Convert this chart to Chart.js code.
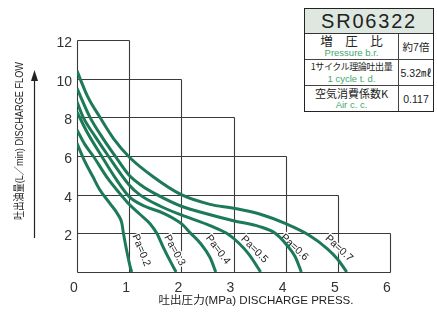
<!DOCTYPE html>
<html>
<head>
<meta charset="utf-8">
<script src="https://cdn.jsdelivr.net/npm/chart.js@4.4.1/dist/chart.umd.min.js"></script>
<style>
  body { margin: 0; background: #fff; }
  #wrap { position: relative; width: 437px; height: 313px; }
  #spec {
    position: absolute; left: 304px; top: 8px; width: 128px;
    border: 1.5px solid #222; background: #fff; color: #222;
    font-family: "Liberation Sans", Arial, "Noto Sans CJK JP", sans-serif;
  }
  #spec .hd {
    height: 24px; line-height: 25px; background: #dfe7e1;
    border-bottom: 1px solid #333; text-align: center;
    font-size: 20px; letter-spacing: 1.8px;
  }
  #spec .row { display: flex; height: 25px; border-bottom: 1px solid #444; }
  #spec .row:last-child { border-bottom: none; }
  #spec .l { width: 93px; border-right: 1px solid #444; text-align: center; }
  #spec .r { flex: 1; display: flex; align-items: center; justify-content: center; font-size: 10.5px; }
  #spec .jp { font-size: 11px; line-height: 12px; padding-top: 1px; font-family: "Noto Sans CJK JP", sans-serif; }
  #spec .jp.big { font-size: 12.5px; line-height: 13px; padding-top: 0; }
  #spec .jp.small { font-size: 9px; letter-spacing: -0.4px; }
  #spec .en { font-size: 9.5px; line-height: 11px; color: #3fa86c; }
</style>
</head>
<body>
<div id="wrap">
  <canvas id="chart" width="437" height="313"></canvas>
  <div id="spec">
    <div class="hd">SR06322</div>
    <div class="row">
      <div class="l"><div class="jp big">増　圧　比</div><div class="en">Pressure b.r.</div></div>
      <div class="r">約7倍</div>
    </div>
    <div class="row">
      <div class="l"><div class="jp small">1サイクル理論吐出量</div><div class="en">1 cycle t. d.</div></div>
      <div class="r">5.32㎖</div>
    </div>
    <div class="row">
      <div class="l"><div class="jp">空気消費係数K</div><div class="en">Air c. c.</div></div>
      <div class="r">0.117</div>
    </div>
  </div>
</div>
<script>
// discharge pressure (MPa) / discharge flow (L/min), one pair per drive air pressure
const pa02X = [0, 0.15, 0.3, 0.44, 0.63, 0.79, 0.86, 0.89, 0.95, 1.02, 1.05];
const pa02Y = [6.65, 5.72, 4.95, 4.24, 3.55, 2.95, 2.52, 2.0, 1.14, 0.27, 0];
const pa03X = [0, 0.15, 0.31, 0.6, 0.84, 1.0, 1.2, 1.4, 1.53, 1.65, 1.78, 1.9];
const pa03Y = [7.35, 6.6, 6.0, 4.8, 4.0, 3.5, 3.0, 2.5, 2.0, 1.3, 0.6, 0];
const pa04X = [0, 0.2, 0.47, 0.75, 1.0, 1.3, 1.65, 2.0, 2.18, 2.36, 2.55, 2.66];
const pa04Y = [8.28, 7.2, 6.0, 4.8, 3.9, 3.4, 3.05, 2.5, 2.0, 1.5, 0.75, 0];
const pa05X = [0, 0.12, 0.35, 0.6, 1.0, 1.2, 1.6, 2.0, 2.55, 2.87, 3.1, 3.3, 3.52];
const pa05Y = [8.8, 8.0, 7.0, 6.0, 4.5, 4.0, 3.4, 2.95, 2.4, 2.0, 1.5, 0.9, 0];
const pa06X = [0, 0.25, 0.5, 0.73, 1.0, 1.25, 1.53, 2.0, 2.5, 3.0, 3.5, 3.8, 4.02, 4.18, 4.3];
const pa06Y = [9.5, 8.0, 6.9, 6.0, 5.0, 4.45, 4.0, 3.4, 3.0, 2.65, 2.35, 2.0, 1.4, 0.8, 0];
const pa07X = [0, 0.2, 0.44, 0.7, 1.0, 1.46, 2.0, 2.55, 3.0, 3.5, 4.0, 4.45, 4.8, 5.0, 5.17];
const pa07Y = [10.4, 9.1, 8.0, 6.9, 5.95, 4.93, 4.0, 3.5, 3.3, 3.0, 2.5, 1.9, 1.2, 0.65, 0];

const seriesNames = ["Pa=0.2", "Pa=0.3", "Pa=0.4", "Pa=0.5", "Pa=0.6", "Pa=0.7"];
const xTicks = [0, 1, 2, 3, 4, 5, 6];
const yTicks = [0, 2, 4, 6, 8, 10, 12];

const curveColor = "#1d7a58";
const gridColor = "#3a3a3a";
const fontFamily = '"Liberation Sans", Arial, "Noto Sans CJK JP", sans-serif';

const pairs = [[pa02X, pa02Y], [pa03X, pa03Y], [pa04X, pa04Y], [pa05X, pa05Y], [pa06X, pa06Y], [pa07X, pa07Y]];

// where each Pa= tag sits (data coords) and its tilt in degrees
const tagSpots = [
  { x: 1.23, y: 1.12, deg: 68 },
  { x: 1.87, y: 1.12, deg: 61 },
  { x: 2.7, y: 1.15, deg: 53 },
  { x: 3.4, y: 1.17, deg: 45 },
  { x: 4.17, y: 1.27, deg: 43 },
  { x: 5.02, y: 1.22, deg: 43 }
];

function fitText(ctx, text, cx, cy, width, angle) {
  ctx.save();
  ctx.translate(cx, cy);
  ctx.rotate(angle);
  const w = ctx.measureText(text).width;
  ctx.scale(width / w, 1);
  ctx.textAlign = "center";
  ctx.textBaseline = "middle";
  ctx.fillText(text, 0, 0);
  ctx.restore();
}

// staircase grid + Pa tags, drawn under the curves
const stairGrid = {
  id: "stairGrid",
  beforeDatasetsDraw(chart) {
    const { ctx, scales: { x, y } } = chart;
    const px = (v) => Math.round(x.getPixelForValue(v)) + 0.5;
    const py = (v) => Math.round(y.getPixelForValue(v)) + 0.5;
    ctx.save();
    ctx.strokeStyle = gridColor;
    ctx.lineWidth = 1.1;
    ctx.beginPath();
    const top = yTicks[yTicks.length - 1];
    // horizontal: level yTicks[k] runs out to xTicks[last-k+1]
    yTicks.forEach((lvl, k) => {
      const reach = k === 0 ? xTicks[xTicks.length - 1] : xTicks[xTicks.length - k];
      ctx.moveTo(px(0), py(lvl));
      ctx.lineTo(px(reach), py(lvl));
    });
    // vertical: column xTicks[k] rises to the matching level
    xTicks.forEach((col, k) => {
      const h = k === 0 ? top : yTicks[yTicks.length - k];
      ctx.moveTo(px(col), py(0));
      ctx.lineTo(px(col), py(h));
    });
    ctx.stroke();

    ctx.font = "10.5px " + fontFamily;
    ctx.textAlign = "center";
    ctx.textBaseline = "middle";
    seriesNames.forEach((name, i) => {
      const s = tagSpots[i];
      ctx.save();
      ctx.translate(x.getPixelForValue(s.x), y.getPixelForValue(s.y));
      ctx.rotate(s.deg * Math.PI / 180);
      ctx.strokeStyle = "#fff";
      ctx.lineWidth = 3;
      ctx.strokeText(name, 0, 0);
      ctx.fillStyle = "#222";
      ctx.fillText(name, 0, 0);
      ctx.restore();
    });
    ctx.restore();
  },
  afterDraw(chart) {
    const { ctx } = chart;
    ctx.save();
    ctx.fillStyle = "#222";
    ctx.font = "11px " + fontFamily;
    fitText(ctx, "吐出圧力(MPa) DISCHARGE PRESS.", 256, 301, 195, 0);
    ctx.font = "11px " + fontFamily;
    fitText(ctx, "吐出油量(L／min) DISCHARGE FLOW", 20, 141, 158, -Math.PI / 2);

    // flow arrow
    ctx.strokeStyle = "#222";
    ctx.lineWidth = 1.2;
    ctx.beginPath();
    ctx.moveTo(34.5, 238);
    ctx.lineTo(34.5, 78);
    ctx.stroke();
    ctx.beginPath();
    ctx.moveTo(34.5, 70);
    ctx.lineTo(38, 81);
    ctx.lineTo(31, 81);
    ctx.closePath();
    ctx.fill();
    ctx.restore();
  }
};

new Chart(document.getElementById("chart"), {
  type: "scatter",
  data: {
    datasets: seriesNames.map((name, i) => ({
      label: name,
      data: pairs[i][0].map((v, j) => ({ x: v, y: pairs[i][1][j] })),
      showLine: true,
      borderColor: curveColor,
      borderWidth: 3,
      pointRadius: 0,
      cubicInterpolationMode: "monotone",
      fill: false
    }))
  },
  options: {
    responsive: false,
    animation: false,
    devicePixelRatio: 1,
    layout: { padding: { left: 47, right: 47, top: 40, bottom: 0 } },
    plugins: { legend: { display: false }, tooltip: { enabled: false } },
    scales: {
      x: {
        type: "linear",
        min: 0,
        max: 6,
        afterBuildTicks: (s) => { s.ticks = xTicks.map((v) => ({ value: v })); },
        afterFit: (s) => { s.height = 41; },
        grid: { display: false, drawTicks: false },
        border: { display: false },
        ticks: { color: "#333", padding: 8, labelOffset: -3, font: { size: 14, family: fontFamily } }
      },
      y: {
        min: 0,
        max: 12,
        afterBuildTicks: (s) => { s.ticks = yTicks.map((v) => ({ value: v })); },
        afterFit: (s) => { s.width = 30; },
        grid: { display: false, drawTicks: false },
        border: { display: false },
        ticks: {
          color: "#333",
          padding: 5,
          labelOffset: 3,
          font: { size: 14, family: fontFamily },
          callback: (v) => (v === 0 ? "" : v)
        }
      }
    }
  },
  plugins: [stairGrid]
});
</script>
</body>
</html>
